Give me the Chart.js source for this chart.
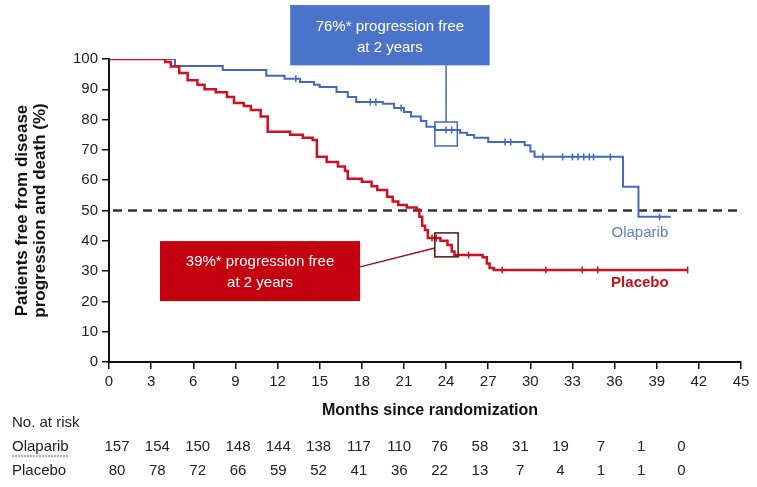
<!DOCTYPE html>
<html>
<head>
<meta charset="utf-8">
<script src="https://cdn.jsdelivr.net/npm/chart.js@4.4.1/dist/chart.umd.min.js"></script>
<style>
  body { margin: 0; background: #fff; }
</style>
</head>
<body>
<canvas id="canvas" width="757" height="487"></canvas>
<script>
// Kaplan-Meier steps (month of step, % free after step)
var olaparibTime = [0, 4.7, 8.1, 11.2, 12.5, 13.6, 14.6, 15.0, 16.2, 17.0, 17.6, 19.5, 20.3, 21.0, 21.5, 22.2, 22.6, 23.2, 25.0, 25.5, 26.0, 27.0, 29.6, 30.0, 30.3, 36.6, 37.7, 40.0];
var olaparibSurv = [100, 97.7, 96.4, 94.5, 93.5, 92.4, 91.5, 90.8, 89.1, 87.5, 85.8, 85.2, 83.8, 82.5, 81.0, 79.5, 77.6, 76.6, 75.7, 74.9, 74.0, 72.6, 71.5, 69.5, 67.7, 57.8, 47.9, 47.9];
var placeboTime = [0, 4.0, 4.4, 5.0, 5.6, 6.3, 6.8, 7.6, 8.4, 8.9, 9.6, 10.1, 10.8, 11.3, 12.9, 13.8, 14.5, 14.8, 15.5, 16.3, 16.8, 17.0, 18.0, 18.7, 19.1, 19.8, 20.2, 20.6, 21.2, 21.9, 22.1, 22.3, 22.5, 22.7, 23.6, 24.1, 24.4, 24.6, 26.6, 26.9, 27.1, 27.4, 41.2];
var placeboSurv = [100, 99, 97.5, 95.4, 93, 91.5, 90, 89, 87.5, 85.5, 84.5, 83.2, 81, 76, 75, 74, 73.3, 67.7, 66, 64.5, 63, 60.5, 59.5, 58, 56.8, 54.5, 53, 51.8, 51, 50.3, 47.9, 45, 43.6, 40.9, 40.0, 38.6, 36.5, 35.3, 34.6, 32.5, 31, 30.4, 30.4];

// censoring ticks
var olaparibCensorTime = [13.3, 18.6, 19.0, 20.8, 24.0, 24.4, 28.2, 28.6, 30.9, 32.3, 33.0, 33.4, 33.8, 34.2, 34.5, 35.7, 39.2];
var olaparibCensorSurv = [93.5, 85.8, 85.8, 83.8, 76.6, 76.6, 72.6, 72.6, 67.7, 67.7, 67.7, 67.7, 67.7, 67.7, 67.7, 67.7, 47.9];
var placeboCensorTime = [23.0, 23.3, 25.6, 28.0, 31.1, 33.7, 34.8, 41.2];
var placeboCensorSurv = [40.9, 40.9, 35.3, 30.4, 30.4, 30.4, 30.4, 30.4];

// number at risk table
var riskMonths = [0, 3, 6, 9, 12, 15, 18, 21, 24, 27, 30, 33, 36, 39, 42];
var olaparibAtRisk = [157, 154, 150, 148, 144, 138, 117, 110, 76, 58, 31, 19, 7, 1, 0];
var placeboAtRisk = [80, 78, 72, 66, 59, 52, 41, 36, 22, 13, 7, 4, 1, 1, 0];

var BLUE = '#4268c0';
var RED = '#cf1020';
var FONT = '"Liberation Sans", Arial, sans-serif';

function toPoints(xs, ys) {
    var pts = [];
    for (var i = 0; i < xs.length; i++) pts.push({x: xs[i], y: ys[i]});
    return pts;
}

var annotations = {
    id: 'annotations',
    beforeDatasetsDraw: function(chart) {
        var ctx = chart.ctx, xs = chart.scales.x, ys = chart.scales.y;
        ctx.save();
        ctx.strokeStyle = '#333';
        ctx.lineWidth = 2.5;
        ctx.setLineDash([9, 6]);
        ctx.beginPath();
        ctx.moveTo(xs.getPixelForValue(0) + 4, ys.getPixelForValue(50));
        ctx.lineTo(xs.getPixelForValue(45), ys.getPixelForValue(50));
        ctx.stroke();
        ctx.restore();
    },
    afterDatasetsDraw: function(chart) {
        var ctx = chart.ctx, xs = chart.scales.x, ys = chart.scales.y;
        var px = function(v) { return xs.getPixelForValue(v); };
        var py = function(v) { return ys.getPixelForValue(v); };
        ctx.save();

        // blue callout
        var bx0 = px(12.9), bx1 = px(27.1), by0 = py(117.8), by1 = py(97.9);
        ctx.fillStyle = '#4a74c9';
        ctx.fillRect(bx0, by0, bx1 - bx0, by1 - by0);
        ctx.fillStyle = '#fff';
        ctx.font = '15px ' + FONT;
        ctx.textAlign = 'center';
        ctx.textBaseline = 'middle';
        ctx.fillText('76%* progression free', (bx0 + bx1) / 2, by0 + 22);
        ctx.fillText('at 2 years', (bx0 + bx1) / 2, by0 + 43);
        ctx.strokeStyle = BLUE;
        ctx.lineWidth = 1.5;
        ctx.beginPath();
        ctx.moveTo(px(24), by1);
        ctx.lineTo(px(24), py(79.2));
        ctx.stroke();
        ctx.strokeRect(px(23.2), py(79.2), px(24.8) - px(23.2), py(71.3) - py(79.2));

        // red callout
        var rx0 = px(3.63), rx1 = px(17.88), ry0 = py(39.9), ry1 = py(20.1);
        ctx.fillStyle = '#c40010';
        ctx.fillRect(rx0, ry0, rx1 - rx0, ry1 - ry0);
        ctx.fillStyle = '#fff';
        ctx.fillText('39%* progression free', (rx0 + rx1) / 2, ry0 + 21);
        ctx.fillText('at 2 years', (rx0 + rx1) / 2, ry0 + 42);
        ctx.strokeStyle = '#a01018';
        ctx.beginPath();
        ctx.moveTo(rx1, py(31.4));
        ctx.lineTo(px(23.2), py(37.6));
        ctx.stroke();
        ctx.strokeStyle = '#5a1010';
        ctx.strokeRect(px(23.2), py(42.6), px(24.86) - px(23.2), py(34.7) - py(42.6));

        // series labels
        ctx.font = '15px ' + FONT;
        ctx.fillStyle = '#5c80d0';
        ctx.fillText('Olaparib', px(37.8), py(42.6));
        ctx.font = 'bold 15px ' + FONT;
        ctx.fillStyle = '#c8101c';
        ctx.fillText('Placebo', px(37.8), py(26.1));

        // x axis title
        ctx.fillStyle = '#111';
        ctx.font = 'bold 16px ' + FONT;
        ctx.fillText('Months since randomization', (chart.chartArea.left + chart.chartArea.right) / 2 + 5, 411);

        // number at risk
        ctx.font = '15px ' + FONT;
        ctx.fillStyle = '#222';
        ctx.textAlign = 'left';
        ctx.fillText('No. at risk', 12, 423);
        ctx.fillText('Olaparib', 12, 447);
        ctx.fillText('Placebo', 12, 471);
        ctx.strokeStyle = '#e03030';
        ctx.lineWidth = 1;
        ctx.setLineDash([2, 1]);
        ctx.beginPath();
        ctx.moveTo(12, 456);
        ctx.lineTo(68, 456);
        ctx.stroke();
        ctx.setLineDash([]);
        ctx.textAlign = 'center';
        for (var i = 0; i < riskMonths.length; i++) {
            // the table columns sit a bit tighter than the axis ticks
            var cx = px(0.57 + riskMonths[i] * 0.957);
            ctx.fillText(String(olaparibAtRisk[i]), cx, 447);
            ctx.fillText(String(placeboAtRisk[i]), cx, 471);
        }
        ctx.restore();
    }
};

var config = {
    type: 'line',
    data: {
        datasets: [
            {
                label: 'Placebo',
                data: toPoints(placeboTime, placeboSurv),
                borderColor: RED,
                borderWidth: 2.5,
                stepped: 'before',
                pointRadius: 0,
                fill: false
            }, {
                label: 'Olaparib',
                data: toPoints(olaparibTime, olaparibSurv),
                borderColor: BLUE,
                borderWidth: 2,
                stepped: 'before',
                pointRadius: 0,
                fill: false
            }, {
                type: 'scatter',
                label: 'Placebo censored',
                data: toPoints(placeboCensorTime, placeboCensorSurv),
                pointStyle: 'line',
                rotation: 90,
                pointRadius: 3.5,
                borderColor: RED,
                borderWidth: 1.5
            }, {
                type: 'scatter',
                label: 'Olaparib censored',
                data: toPoints(olaparibCensorTime, olaparibCensorSurv),
                pointStyle: 'line',
                rotation: 90,
                pointRadius: 3.5,
                borderColor: BLUE,
                borderWidth: 1.5
            }]
    },
    options: {
        responsive: false,
        animation: false,
        layout: { padding: { top: 59, right: 16, left: 0, bottom: 0 } },
        plugins: { legend: { display: false }, tooltip: { enabled: false } },
        scales: {
            x: {
                type: 'linear',
                min: 0, max: 45,
                ticks: { stepSize: 3, color: '#222', font: { family: FONT, size: 15 }, padding: 4, maxRotation: 0 },
                grid: { drawOnChartArea: false, drawTicks: true, tickLength: 7, color: '#111', lineWidth: 1.5 },
                border: { color: '#111', width: 2 },
                afterFit: function(scale) { scale.height = 125; }
            },
            y: {
                min: 0, max: 100,
                ticks: { stepSize: 10, color: '#222', font: { family: FONT, size: 15 }, padding: 4 },
                grid: { drawOnChartArea: false, drawTicks: true, tickLength: 7, color: '#111', lineWidth: 1.5 },
                border: { color: '#111', width: 2 },
                title: {
                    display: true,
                    text: ['Patients free from disease', 'progression and death (%)'],
                    color: '#111',
                    font: { family: FONT, size: 17, weight: 'bold', lineHeight: 1.06 },
                    padding: { top: 13, bottom: 0 }
                },
                afterFit: function(scale) { scale.width = 109; }
            }
        }
    },
    plugins: [annotations]
};

window.onload = function() {
    var ctx = document.getElementById('canvas').getContext('2d');
    window.myChart = new Chart(ctx, config);
};
</script>
</body>
</html>
